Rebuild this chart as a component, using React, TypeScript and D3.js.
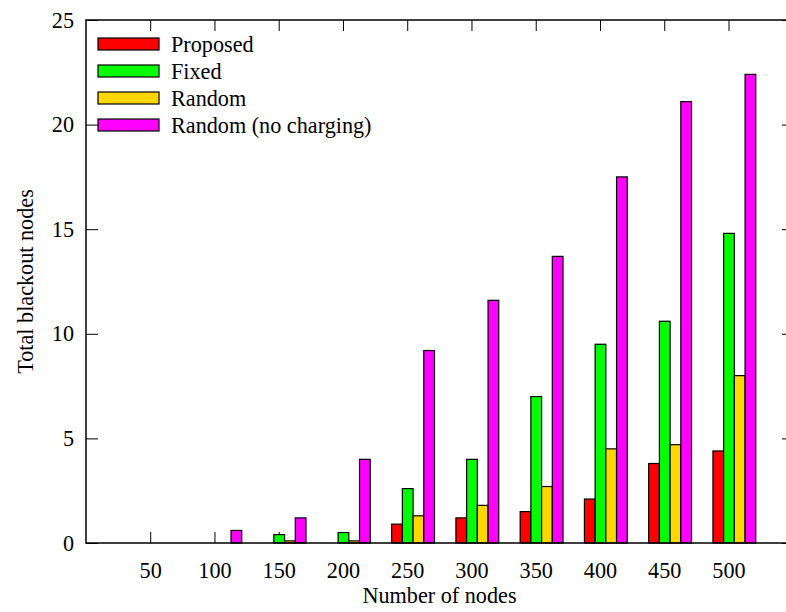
import React, { useEffect, useRef } from "react";
import * as d3 from "d3";

const nodeCounts = ["50", "100", "150", "200", "250", "300", "350", "400", "450", "500"];
const seriesNames = ["Proposed", "Fixed", "Random", "Random (no charging)"];
const seriesColors = ["#ff0000", "#00ff00", "#ffd700", "#ff00ff"];

const proposed = [0, 0, 0, 0, 0.9, 1.2, 1.5, 2.1, 3.8, 4.4];
const fixed = [0, 0, 0.4, 0.5, 2.6, 4.0, 7.0, 9.5, 10.6, 14.8];
const random = [0, 0, 0.1, 0.1, 1.3, 1.8, 2.7, 4.5, 4.7, 8.0];
const randomNoCharging = [0, 0.6, 1.2, 4.0, 9.2, 11.6, 13.7, 17.5, 21.1, 22.4];

const yTicks = [0, 5, 10, 15, 20, 25];

const seriesValues = [proposed, fixed, random, randomNoCharging];

const dimension = {
  width: 786,
  height: 612,
  margin: { top: 20, left: 86, right: 793, bottom: 543 },
};

const FONT = "Liberation Serif";
const FONT_SIZE = 22.2;

function axisX() {
  // first category sits at 150.7, last at 729
  const step = (729 - 150.7) / (nodeCounts.length - 1);
  const x0 = d3
    .scaleBand<string>()
    .domain(nodeCounts)
    .range([150.7 - step / 2, 729 + step / 2])
    .padding(0);
  // 4 bars + gap of 2 bars per cluster, gnuplot style
  const x1 = d3
    .scaleBand<string>()
    .domain(seriesNames)
    .range([step / 4, step / 4 + (4 * step) / 6]);
  return { x0, x1, step };
}

function axisY() {
  const { margin } = dimension;
  return d3.scaleLinear().domain([0, 25]).range([margin.bottom, margin.top]);
}

function styleText(sel: any) {
  sel.attr("font-family", FONT).attr("font-size", FONT_SIZE).attr("fill", "#000");
}

function drawBars(svg: any, axis: any) {
  const { x0, x1 } = axis.x;
  const y = axis.y;
  const rows = nodeCounts.flatMap((c, i) =>
    seriesNames.map((s, k) => ({ cat: c, series: s, value: seriesValues[k][i], color: seriesColors[k] }))
  );
  svg
    .append("g")
    .selectAll("rect")
    .data(rows.filter((d) => d.value > 0))
    .enter()
    .append("rect")
    .attr("x", (d: any) => x0(d.cat) + x1(d.series))
    .attr("y", (d: any) => y(d.value))
    .attr("width", x1.bandwidth())
    .attr("height", (d: any) => y(0) - y(d.value))
    .attr("fill", (d: any) => d.color)
    .attr("stroke", "#000")
    .attr("stroke-width", 1.2);
}

function drawAxes(svg: any, axis: any) {
  const { margin } = dimension;
  const { x0 } = axis.x;
  const y = axis.y;

  // bottom axis with labels
  const bottom = svg
    .append("g")
    .attr("transform", `translate(0,${margin.bottom})`)
    .call(d3.axisBottom(x0).tickSize(-11).tickPadding(19));
  bottom.attr("font-family", FONT).attr("font-size", FONT_SIZE);
  bottom.select(".domain").remove();
  bottom.selectAll("line").attr("stroke", "#000");
  bottom.selectAll("text").call(styleText);

  // top mirror ticks
  const top = svg
    .append("g")
    .attr("transform", `translate(0,${margin.top})`)
    .call(d3.axisTop(x0).tickSize(-11).tickFormat(() => ""));
  top.select(".domain").remove();
  top.selectAll("line").attr("stroke", "#000");

  // left axis with labels
  const left = svg
    .append("g")
    .attr("transform", `translate(${margin.left},0)`)
    .call(d3.axisLeft(y).tickValues(yTicks).tickSize(-12).tickPadding(12));
  left.attr("font-family", FONT).attr("font-size", FONT_SIZE);
  left.select(".domain").remove();
  left.selectAll("line").attr("stroke", "#000");
  left.selectAll("text").call(styleText);

  // right mirror ticks
  const right = svg
    .append("g")
    .attr("transform", `translate(${margin.right},0)`)
    .call(d3.axisRight(y).tickValues(yTicks).tickSize(-11).tickFormat(() => ""));
  right.select(".domain").remove();
  right.selectAll("line").attr("stroke", "#000");
}

function drawFrame(svg: any) {
  const { margin } = dimension;
  svg
    .append("rect")
    .attr("x", margin.left)
    .attr("y", margin.top)
    .attr("width", margin.right - margin.left)
    .attr("height", margin.bottom - margin.top)
    .attr("fill", "none")
    .attr("stroke", "#000")
    .attr("stroke-width", 1.5);

  // axis titles
  svg
    .append("text")
    .attr("x", (margin.left + margin.right) / 2)
    .attr("y", 603)
    .attr("text-anchor", "middle")
    .call(styleText)
    .text("Number of nodes");

  svg
    .append("text")
    .attr("transform", `translate(33,${(margin.top + margin.bottom) / 2}) rotate(-90)`)
    .attr("text-anchor", "middle")
    .call(styleText)
    .text("Total blackout nodes");
}

function drawLegend(svg: any) {
  const g = svg.append("g");
  const rows = g
    .selectAll("g")
    .data(seriesNames)
    .enter()
    .append("g")
    .attr("transform", (_: any, i: number) => `translate(98,${44 + i * 27})`);
  rows
    .append("rect")
    .attr("x", 0)
    .attr("y", -6)
    .attr("width", 61)
    .attr("height", 12)
    .attr("fill", (_: any, i: number) => seriesColors[i])
    .attr("stroke", "#000")
    .attr("stroke-width", 1.2);
  rows
    .append("text")
    .attr("x", 73)
    .attr("dy", "0.35em")
    .call(styleText)
    .text((d: string) => d);
}

function draw(node: SVGSVGElement) {
  const svg = d3.select(node);
  svg.selectAll("*").remove();
  svg.append("rect").attr("width", dimension.width).attr("height", dimension.height).attr("fill", "#fff");
  const axis = { x: axisX(), y: axisY() };
  // ticks first so the bars sit on top of them, like gnuplot
  drawAxes(svg, axis);
  drawBars(svg, axis);
  drawFrame(svg);
  drawLegend(svg);
}

export default function App() {
  const ref = useRef<SVGSVGElement>(null);
  useEffect(() => {
    if (ref.current) draw(ref.current);
  }, []);
  return (
    <svg
      ref={ref}
      width={dimension.width}
      height={dimension.height}
      fontFamily={FONT}
      style={{ position: "absolute", left: 0, top: 0, display: "block" }}
    />
  );
}
